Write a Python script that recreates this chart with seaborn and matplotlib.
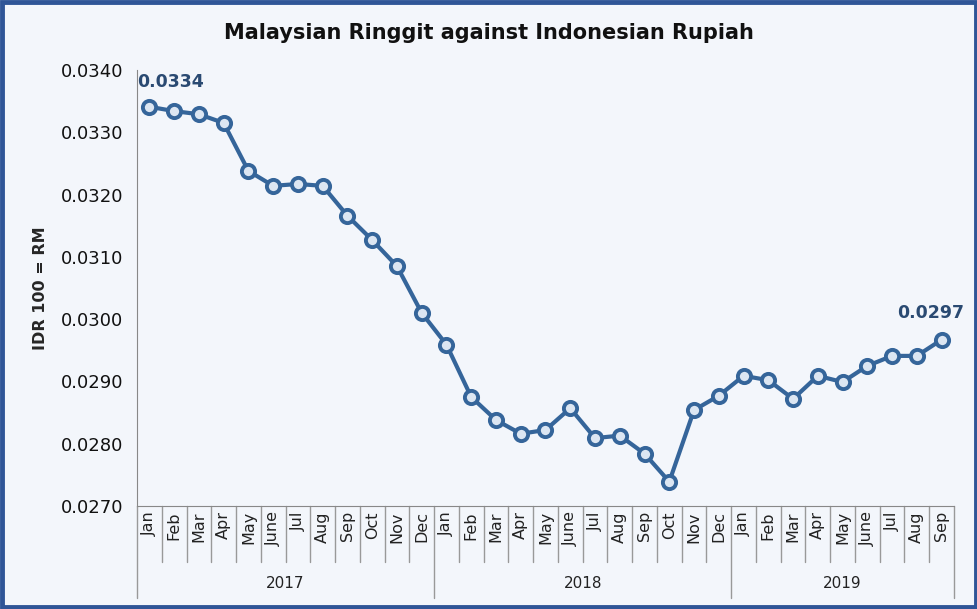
import numpy as np
import pandas as pd
import matplotlib
matplotlib.use("Agg")
import matplotlib.pyplot as plt
from matplotlib.patches import Rectangle
from matplotlib.lines import Line2D
import seaborn as sns

years = ["2017", "2018", "2019"]
months_2017 = ["Jan", "Feb", "Mar", "Apr", "May", "June", "Jul", "Aug", "Sep", "Oct", "Nov", "Dec"]
months_2018 = ["Jan", "Feb", "Mar", "Apr", "May", "June", "Jul", "Aug", "Sep", "Oct", "Nov", "Dec"]
months_2019 = ["Jan", "Feb", "Mar", "Apr", "May", "June", "Jul", "Aug", "Sep"]
values = [0.03341, 0.03334, 0.03329, 0.03315, 0.03238, 0.03214, 0.03217, 0.03214,
          0.03166, 0.03127, 0.03085, 0.03010,
          0.02959, 0.02875, 0.02838, 0.02816, 0.02822, 0.02857, 0.02809, 0.02813,
          0.02784, 0.02739, 0.02854, 0.02877,
          0.02909, 0.02902, 0.02872, 0.02909, 0.02899, 0.02925, 0.02941, 0.02941, 0.02967]
yticks = [0.0270, 0.0280, 0.0290, 0.0300, 0.0310, 0.0320, 0.0330, 0.0340]

month_groups = [months_2017, months_2018, months_2019]
labels = [m for g in month_groups for m in g]
df = pd.DataFrame({"idx": np.arange(len(values)), "val": values, "month": labels})

sns.set_style("white")
plt.rcParams["font.family"] = ["DejaVu Sans"]

bg = "#f3f6fb"
line_c = "#35659a"
W, H = 978, 609
fig = plt.figure(figsize=(W / 100, H / 100), dpi=100, facecolor=bg)
ax = fig.add_axes([137 / W, 1 - 506 / H, (954 - 137) / W, (506 - 70) / H])
ax.set_facecolor(bg)

sns.lineplot(data=df, x="idx", y="val", ax=ax, color=line_c, linewidth=3.0,
             marker="o", markersize=9.5, markerfacecolor="#dce6f2",
             markeredgecolor=line_c, markeredgewidth=2.8)

n = len(values)
ax.set_xlim(-0.5, n - 0.5)
ax.set_ylim(yticks[0], yticks[-1])
ax.set_yticks(yticks)
ax.set_yticklabels([f"{v:.4f}" for v in yticks], fontsize=13, color="#111111")
ax.tick_params(axis="y", direction="out", length=5, width=1, color="#888888", pad=5)
ax.set_xticks([])
ax.set_xlabel("")
ax.set_ylabel("IDR 100 = RM", fontsize=11.5, fontweight="bold", labelpad=9)
for s in ["top", "right"]:
    ax.spines[s].set_visible(False)
ax.spines["left"].set_color("#888888")
ax.spines["bottom"].set_color("#888888")

# Category axis labels
trans = ax.get_xaxis_transform()
for i, lab in enumerate(labels):
    ax.text(i, -0.012, lab, rotation=90, ha="center", va="top", fontsize=11.5,
            color="#222222", transform=trans, clip_on=False)

def vline(x, y0, y1):
    ax.add_line(Line2D([x, x], [y0, y1], transform=trans, color="#999999", lw=1, clip_on=False))

month_bottom = -(562 - 506) / (506 - 70)
year_bottom = -(598 - 506) / (506 - 70)
start = 0
year_edges = [-0.5]
for g in month_groups:
    start += len(g)
    year_edges.append(start - 0.5)
for i in range(n + 1):
    x = i - 0.5
    if x in year_edges:
        vline(x, 0, year_bottom)
    else:
        vline(x, 0, month_bottom)

start = 0
for y, g in zip(years, month_groups):
    center = start + (len(g) - 1) / 2
    ax.text(center, -(583 - 506) / (506 - 70), y, ha="center", va="center", fontsize=11,
            color="#222222", transform=trans, clip_on=False)
    start += len(g)

# data labels
ax.text(-0.5, values[0] + 0.00040, f"{values[0]:.4f}", fontsize=12.5, fontweight="bold",
        color="#2a4a72", ha="left", va="center")
ax.text(n - 1 + 0.9, values[-1] + 0.00043, f"{values[-1]:.4f}", fontsize=12.5, fontweight="bold",
        color="#2a4a72", ha="right", va="center")

fig.text(489 / W, 1 - 33 / H, "Malaysian Ringgit against Indonesian Rupiah",
         ha="center", va="center", fontsize=15, fontweight="bold", color="#111111")

fig.patches.append(Rectangle((0.002, 0.003), 0.996, 0.994, transform=fig.transFigure,
                             fill=False, edgecolor="#2f5597", linewidth=3.5))

fig.savefig("out.png", dpi=100, facecolor=bg)
